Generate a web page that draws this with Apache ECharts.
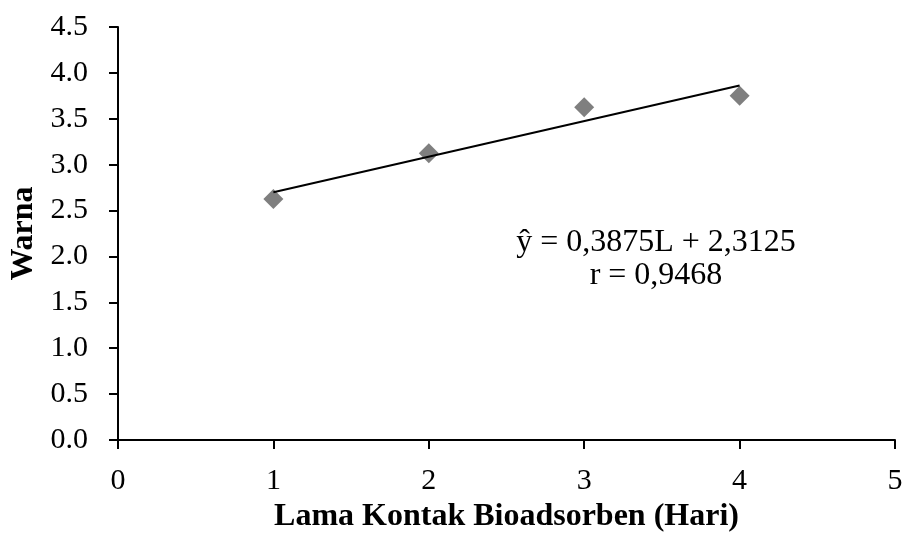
<!DOCTYPE html>
<html>
<head>
<meta charset="utf-8">
<script src="https://cdn.jsdelivr.net/npm/echarts@6/dist/echarts.min.js"></script>
<style>html,body{margin:0;padding:0;background:#fff}#c{width:904px;height:536px}</style>
</head>
<body>
<div id="c"></div>
<script>
const days = [1, 2, 3, 4];
const warna = [2.625, 3.125, 3.625, 3.75];
const slope = 0.3875;
const intercept = 2.3125;
const trendX = [1, 4];
const yTicks = { min: 0, max: 4.5, interval: 0.5 };
const xTicks = { min: 0, max: 5, interval: 1 };
const eqLine1 = 'ŷ = 0,3875L + 2,3125';
const eqLine2 = 'r = 0,9468';

const chart = echarts.init(document.getElementById('c'), null, { renderer: 'canvas' });
const font = '"Liberation Serif", "Times New Roman", serif';
const axisBase = {
  axisLine: { lineStyle: { color: '#000', width: 2 } },
  axisTick: { show: true, inside: false, length: 9, lineStyle: { color: '#000', width: 2 } },
  splitLine: { show: false },
  axisLabel: { color: '#000', fontFamily: font, fontSize: 30 }
};
chart.setOption({
  animation: false,
  backgroundColor: '#fff',
  grid: { left: 118, right: 9, top: 27, bottom: 96, containLabel: false, outerBoundsMode: 'none' },
  xAxis: Object.assign({}, axisBase, {
    type: 'value', min: xTicks.min, max: xTicks.max, interval: xTicks.interval,
    name: 'Lama Kontak Bioadsorben (Hari)', nameLocation: 'middle', nameGap: 60,
    nameTextStyle: { color: '#000', fontFamily: font, fontSize: 32, fontWeight: 'bold' },
    axisLabel: Object.assign({}, axisBase.axisLabel, { margin: 26 })
  }),
  yAxis: Object.assign({}, axisBase, {
    type: 'value', min: yTicks.min, max: yTicks.max, interval: yTicks.interval,
    name: 'Warna', nameLocation: 'middle', nameGap: 73, nameRotate: 90,
    nameTextStyle: { color: '#000', fontFamily: font, fontSize: 32, fontWeight: 'bold' },
    axisLabel: Object.assign({}, axisBase.axisLabel, { margin: 30, formatter: v => v.toFixed(1) })
  }),
  series: [
    {
      type: 'line',
      data: trendX.map(x => [x, slope * x + intercept]),
      symbol: 'none',
      lineStyle: { color: '#000', width: 2 },
      z: 3
    },
    {
      type: 'scatter',
      data: days.map((d, i) => [d, warna[i]]),
      symbol: 'diamond',
      symbolSize: 20,
      itemStyle: { color: '#5f5f5f' },
      z: 2
    }
  ],
  graphic: [
    { type: 'text', x: 656, y: 227, style: { text: eqLine1, fill: '#000', font: '32px ' + font, align: 'center', verticalAlign: 'top' } },
    { type: 'text', x: 656, y: 260, style: { text: eqLine2, fill: '#000', font: '32px ' + font, align: 'center', verticalAlign: 'top' } }
  ]
});
</script>
</body>
</html>
